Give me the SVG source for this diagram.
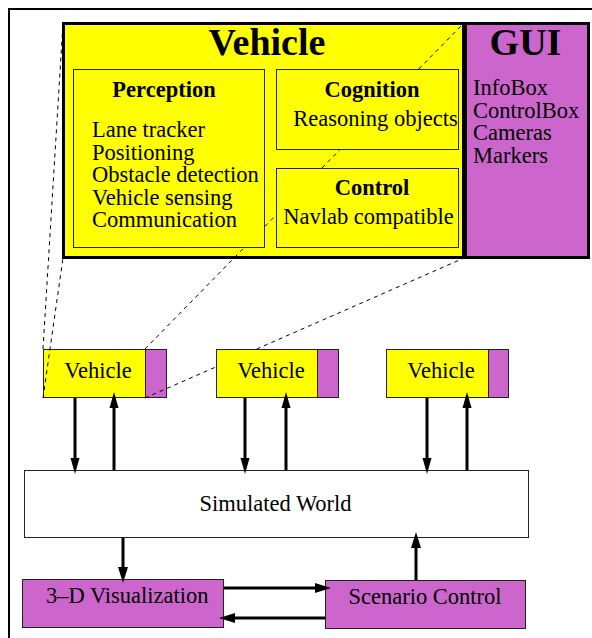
<svg xmlns="http://www.w3.org/2000/svg" width="592" height="638" viewBox="0 0 592 638">
<style>
text{font-family:"Liberation Serif","Times New Roman",serif;font-size:22.5px;fill:#000}
.b{font-weight:bold}
.t{font-weight:bold;font-size:38px}
.m{text-anchor:middle}
.yel{fill:#ffff00}
.mag{fill:#cc66cc}
.thick{stroke:#000;stroke-width:3}
.thin{stroke:#222;stroke-width:1}
.arr{stroke:#000;stroke-width:3;fill:none}
.dash{stroke:#000;stroke-width:1;stroke-dasharray:4 4;fill:none}
</style>
<defs>
<marker id="ah" viewBox="0 0 16 10" refX="6" refY="5" markerWidth="16" markerHeight="10" markerUnits="userSpaceOnUse" orient="auto">
<path d="M0,0 L16,5 L0,10 z" fill="#000"/>
</marker>
<marker id="ahy" viewBox="0 0 16 10" refX="6" refY="5" markerWidth="16" markerHeight="10" markerUnits="userSpaceOnUse" orient="auto">
<path d="M0.5,0 L0.5,10" stroke="#ffff00" stroke-width="1.5"/>
<path d="M0,0.5 L16,5 L0,9.5 z" fill="#000"/>
</marker>
</defs>
<rect width="592" height="638" fill="#fff"/>
<path d="M9,638 V9 H592" fill="none" stroke="#000" stroke-width="2"/>

<g id="vehicle-detail">
<rect x="63.5" y="23.5" width="400" height="234" class="yel thick"/>
<text x="267" y="55" class="t m">Vehicle</text>
</g>
<g id="gui-detail">
<rect x="465.5" y="23.5" width="123" height="234" class="mag thick"/>
<text x="525.5" y="55" class="t m">GUI</text>
<text x="473" y="95">InfoBox</text>
<text x="473" y="117.5">ControlBox</text>
<text x="473" y="140">Cameras</text>
<text x="473" y="162.5">Markers</text>
</g>
<g id="perception">
<rect x="73.5" y="69.5" width="191" height="178" class="yel thin"/>
<text x="164" y="97" class="b m">Perception</text>
<text x="92" y="137">Lane tracker</text>
<text x="92" y="159.5">Positioning</text>
<text x="92" y="182">Obstacle detection</text>
<text x="92" y="204.5">Vehicle sensing</text>
<text x="92" y="227">Communication</text>
</g>
<g id="cognition">
<rect x="276.5" y="69.5" width="182" height="80" class="yel thin"/>
<text x="372" y="97" class="b m">Cognition</text>
<text x="375.5" y="126" class="m">Reasoning objects</text>
</g>
<g id="control">
<rect x="276.5" y="168.5" width="182" height="79" class="yel thin"/>
<text x="372" y="195" class="b m">Control</text>
<text x="368.5" y="224" class="m">Navlab compatible</text>
</g>

<g id="vehicle1">
<rect x="43.5" y="349.5" width="102" height="48" class="yel thin"/>
<rect x="145.5" y="349.5" width="21" height="48" class="mag thin"/>
<text x="98" y="378" class="m">Vehicle</text>
</g>
<g id="vehicle2">
<rect x="216.5" y="349.5" width="101" height="48" class="yel thin"/>
<rect x="317.5" y="349.5" width="21" height="48" class="mag thin"/>
<text x="271" y="378" class="m">Vehicle</text>
</g>
<g id="vehicle3">
<rect x="386.5" y="349.5" width="102" height="48" class="yel thin"/>
<rect x="488.5" y="349.5" width="20" height="48" class="mag thin"/>
<text x="441" y="378" class="m">Vehicle</text>
</g>
<g id="simulated-world">
<rect x="24.5" y="470.5" width="504" height="67" fill="#fff" class="thin"/>
<text x="275.5" y="511" class="m">Simulated World</text>
</g>
<g id="visualization">
<rect x="22.5" y="579.5" width="201" height="48" class="mag thin"/>
<text x="46" y="603">3–D Visualization</text>
</g>
<g id="scenario-control">
<rect x="325.5" y="580.5" width="200" height="48" class="mag thin"/>
<text x="425" y="604" class="m">Scenario Control</text>
</g>

<g id="zoom-lines">
<path class="dash" d="M43,349 L63,23"/>
<path class="dash" d="M43,398 L63,258"/>
<path class="dash" d="M145,349 L243.8,248"/>
<path class="dash" d="M265,226.3 L276,215.1"/>
<path class="dash" d="M322,168 L339.6,150"/>
<path class="dash" d="M418.8,69 L464,23"/>
<path class="dash" d="M145,398 L216,366.9"/>
<path class="dash" d="M256.7,349 L464,258"/>
</g>

<g id="connectors">
<path class="arr" d="M75,398 V464" marker-end="url(#ahy)"/>
<path class="arr" d="M114,470 V402" marker-end="url(#ahy)"/>
<path class="arr" d="M245,398 V464" marker-end="url(#ahy)"/>
<path class="arr" d="M286,470 V402" marker-end="url(#ahy)"/>
<path class="arr" d="M427,398 V464" marker-end="url(#ahy)"/>
<path class="arr" d="M467,470 V402" marker-end="url(#ahy)"/>
<path class="arr" d="M123,538 V573" marker-end="url(#ah)"/>
<path class="arr" d="M224,588 H321" marker-end="url(#ah)"/>
<path class="arr" d="M325,618 H229" marker-end="url(#ah)"/>
<path class="arr" d="M416,580 V542" marker-end="url(#ah)"/>
</g>
</svg>
